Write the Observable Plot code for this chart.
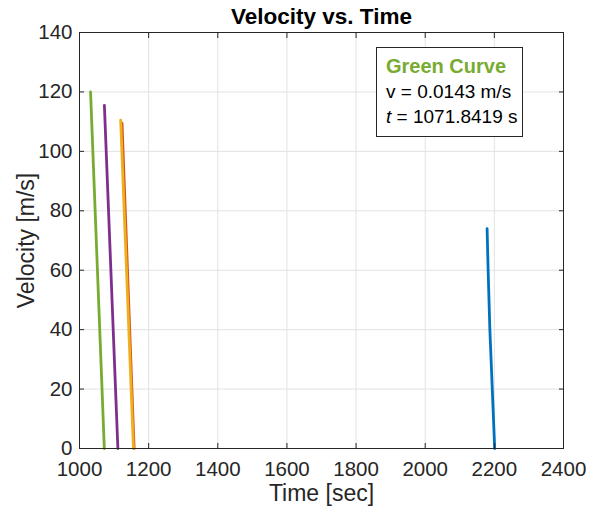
<!DOCTYPE html>
<html>
<head>
<meta charset="utf-8">
<script src="https://cdn.jsdelivr.net/npm/d3@7"></script>
<script src="https://cdn.jsdelivr.net/npm/@observablehq/plot@0.6"></script>
<style>
  body { margin: 0; background: #fff; }
  #wrap { position: relative; width: 590px; height: 508px; font-family: "Liberation Sans", Arial, sans-serif; }
  #box { position: absolute; left: 376px; top: 47px; width: 147px; height: 90px; box-sizing: border-box;
         border: 1px solid #262626; background: #fff; padding: 6px 0 0 9px; font-size: 19px; line-height: 25px; color: #000; white-space: nowrap; }
  #box .g { color: #77AC30; font-weight: bold; font-size: 20px; }
</style>
</head>
<body>
<div id="wrap">
  <div id="chart"></div>
  <div id="box">
    <div class="g">Green Curve</div>
    <div>v = 0.0143 m/s</div>
    <div><i>t</i> = 1071.8419 s</div>
  </div>
</div>
<script>
// Data
const xTicks = [1000, 1200, 1400, 1600, 1800, 2000, 2200, 2400];
const yTicks = [0, 20, 40, 60, 80, 100, 120, 140];

const blueTime = [2179, 2182, 2187, 2194, 2201];
const blueVel  = [74, 60, 40, 20, 0];
const orangeTime = [1123, 1158];
const orangeVel  = [109.5, 0];
const yellowTime = [1119, 1156];
const yellowVel  = [110.5, 0];
const purpleTime = [1072, 1111];
const purpleVel  = [115.5, 0];
const greenTime = [1032, 1071.8];
const greenVel  = [120, 0];

const title = "Velocity vs. Time";
const xLabel = "Time [sec]";
const yLabel = "Velocity [m/s]";

const series = [
  {name: "blue", color: "#0072BD", t: blueTime, v: blueVel},
  {name: "orange", color: "#D95319", t: orangeTime, v: orangeVel},
  {name: "yellow", color: "#EDB120", t: yellowTime, v: yellowVel},
  {name: "purple", color: "#7E2F8E", t: purpleTime, v: purpleVel},
  {name: "green", color: "#77AC30", t: greenTime, v: greenVel}
];

const lineMarks = series.map(s =>
  Plot.line(s.t.map((t, i) => ({t, v: s.v[i]})), {x: "t", y: "v", stroke: s.color, strokeWidth: 2.8})
);

const axisColor = "#262626";
const chart = Plot.plot({
  width: 590,
  height: 508,
  marginLeft: 79,
  marginRight: 27,
  marginTop: 32,
  marginBottom: 60,
  style: { fontFamily: "Liberation Sans, Arial, sans-serif", fontSize: "20px", color: axisColor, background: "#fff" },
  x: { domain: [1000, 2400], label: null },
  y: { domain: [0, 140], label: null },
  marks: [
    Plot.gridX(xTicks, {stroke: "#e2e2e2", strokeOpacity: 1}),
    Plot.gridY(yTicks, {stroke: "#e2e2e2", strokeOpacity: 1}),
    ...lineMarks,
    Plot.frame({stroke: axisColor, strokeWidth: 1}),
    Plot.axisX(xTicks, {anchor: "bottom", tickSize: -5, tickPadding: 18, fontSize: 20.5, stroke: axisColor, fill: axisColor, tickFormat: d => String(d)}),
    Plot.axisX(xTicks, {anchor: "top", tickSize: -5, tickFormat: () => "", stroke: axisColor}),
    Plot.axisY(yTicks, {anchor: "left", tickSize: -5, tickPadding: 12, fontSize: 20.5, stroke: axisColor, fill: axisColor}),
    Plot.axisY(yTicks, {anchor: "right", tickSize: -5, tickFormat: () => "", stroke: axisColor}),
    Plot.text([title], {frameAnchor: "top", lineAnchor: "middle", dy: -16, fontWeight: "bold", fontSize: 22.5, fill: "#000"}),
    Plot.text([xLabel], {frameAnchor: "bottom", lineAnchor: "middle", dy: 45, fontSize: 23, fill: axisColor}),
    Plot.text([yLabel], {frameAnchor: "left", dx: -53, rotate: -90, textAnchor: "middle", fontSize: 23, fill: axisColor})
  ]
});
document.getElementById("chart").appendChild(chart);
</script>
</body>
</html>
